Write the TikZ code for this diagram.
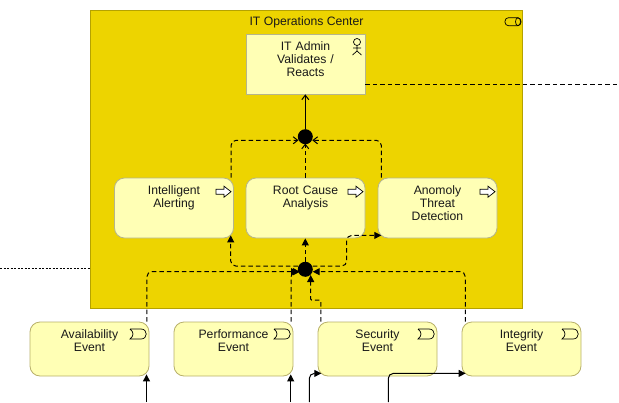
\documentclass[tikz,border=0pt]{standalone}
\usepackage{fontspec}
\setmainfont{Liberation Sans}
\usetikzlibrary{arrows.meta}
\definecolor{opsyellow}{HTML}{EDD400}
\definecolor{opsedge}{HTML}{B5A200}
\definecolor{elemfill}{HTML}{FFFFB5}
\definecolor{elemedge}{HTML}{B5B58C}
\definecolor{evtedge}{HTML}{B8B06A}
\tikzset{
  every node/.style={font=\fontsize{12.2}{13}\selectfont, text=black!90},
  elem/.style={draw=elemedge,fill=elemfill,line width=.8pt,minimum width=119pt,text width=119pt,inner sep=0pt,align=center,text height=16pt,text depth=44pt},
  procbox/.style={elem,rounded corners=10pt},
  evtbox/.style={elem,draw=evtedge,rounded corners=10pt,text depth=38pt},
  junction/.style={circle,fill=black,minimum size=15pt,inner sep=0pt},
  flow/.style={dashed,dash pattern=on 4.5pt off 3pt,line width=1pt,rounded corners=5pt},
  trig/.style={-{Triangle[length=7pt,width=7pt]}},
  openhead/.style={-{Straight Barb[length=4.5pt,width=7pt]}},
  solidflow/.style={line width=1pt,rounded corners=5pt},
  icon/.style={line width=.7pt,draw=black},
  pics/procicon/.style={code={
    \draw[icon,fill=white] (0,-2.5) -- (8,-2.5) -- (8,-5.5) -- (15,0) -- (8,5.5) -- (8,2.5) -- (0,2.5) -- cycle;}},
  pics/evticon/.style={code={
    \draw[icon,fill=none] (0,-5) -- (11,-5) .. controls (18,-5) and (18,5) .. (11,5) -- (0,5) .. controls (4,2) and (4,-2) .. (0,-5);}},
  pics/actoricon/.style={code={
    \draw[icon] (0,0) circle (3.5pt);
    \draw[icon] (0,3.5) -- (0,9) (-4,6) -- (4,6) (-4.5,13) -- (0,9) -- (4.5,13);}},
  pics/nodeicon/.style={code={
    \draw[icon,rounded corners=3.5pt] (0,-4) rectangle (16,4);
    \draw[icon] (13,0) ellipse (2.5pt and 4pt);}}
}
\begin{document}
\begin{tikzpicture}[x=1pt,y=-1pt,>=Stealth]
  \useasboundingbox (0,0) rectangle (619,402);
  % container
  \node[draw=opsedge,fill=opsyellow,line width=.8pt,minimum width=432pt,minimum height=298pt,inner sep=0pt] (ops) at (306,159) {};
  \node (opstitle) at (306.5,22) {IT Operations Center};
  \pic at (505,21.7) {nodeicon};
  % elements
  \node[elem] (admin) at (305.5,64) {IT Admin\\Validates /\\Reacts};
  \node[procbox] (alert) at (174,208) {Intelligent\\Alerting};
  \node[procbox] (rootcause) at (305.5,208) {Root Cause\\Analysis};
  \node[procbox] (anomaly) at (437.5,208) {Anomoly\\Threat\\Detection};
  \node[evtbox] (avail) at (89.5,349) {Availability\\Event};
  \node[evtbox] (perf) at (233.5,349) {Performance\\Event};
  \node[evtbox] (secur) at (377.5,349) {Security\\Event};
  \node[evtbox] (integ) at (521.5,349) {Integrity\\Event};
  \pic at (357,42) {actoricon};
  \pic at (216,191.7) {procicon};
  \pic at (348,191.7) {procicon};
  \pic at (480,191.7) {procicon};
  \pic at (130,334) {evticon};
  \pic at (274,334) {evticon};
  \pic at (418,334) {evticon};
  \pic at (562,334) {evticon};
  \node[junction] (jtop) at (305.3,136.7) {};
  \node[junction] (jbot) at (305.3,269.3) {};
  % free ends
  \coordinate (adminout) at (619,84.5);
  \coordinate (leftin) at (0,268.5);
  \coordinate (availin) at (146.5,402);
  \coordinate (perfin) at (290.7,402);
  \coordinate (securin) at (309.3,402);
  \coordinate (integin) at (388.3,402);
  % outer links
  \draw[flow] (admin.east |- adminout) -- (adminout);
  \draw[line width=.6pt,dash pattern=on 2pt off 1.5pt] (leftin) -- (leftin -| ops.west);
  \draw[line width=1pt,openhead] (jtop) -- (admin.south -| jtop);
  % upper junction
  \draw[flow,openhead] ([xshift=-2.8pt]alert.north east) |- ([xshift=-6.8pt,yshift=-3.6pt]jtop.center);
  \draw[flow,openhead] (jtop |- rootcause.north) -- ([yshift=-6.8pt]jtop.center);
  \draw[flow,openhead] ([xshift=3.7pt]anomaly.north west) |- ([xshift=7pt,yshift=-3.6pt]jtop.center);
  % lower junction
  \draw[flow,trig] (jbot) -- (jbot |- rootcause.south);
  \draw[flow,trig] ([yshift=3.3pt]jbot.center) -| ([xshift=-3.2pt,yshift=3pt]alert.south east);
  \draw[flow,trig] ([yshift=3.3pt]jbot.center) -| (346.7,250) |- ([xshift=3.7pt,yshift=3pt]anomaly.south west);
  \draw[flow,trig] ([xshift=-2.5pt]avail.north east) |- ([xshift=-7.3pt,yshift=-2.4pt]jbot.center);
  \draw[flow,trig] ([xshift=-2.3pt]perf.north east) |- ([xshift=-5.3pt,yshift=-2.4pt]jbot.center);
  \draw[flow,trig,rounded corners=1pt] ([xshift=3.3pt]secur.north west) |- (310.7,300) -- (310.7,275);
  \draw[flow,trig] ([xshift=3.7pt]integ.north west) |- ([xshift=7.4pt,yshift=-2.4pt]jbot.center);
  % event triggers
  \draw[solidflow,trig] (availin) -- ([yshift=2pt]availin |- avail.south);
  \draw[solidflow,trig] (perfin) -- ([yshift=2pt]perfin |- perf.south);
  \draw[solidflow,trig] (securin) |- ([xshift=3.7pt,yshift=3pt]secur.south west);
  \draw[solidflow,trig] (integin) |- ([xshift=4pt,yshift=3pt]integ.south west);
\end{tikzpicture}
\end{document}
